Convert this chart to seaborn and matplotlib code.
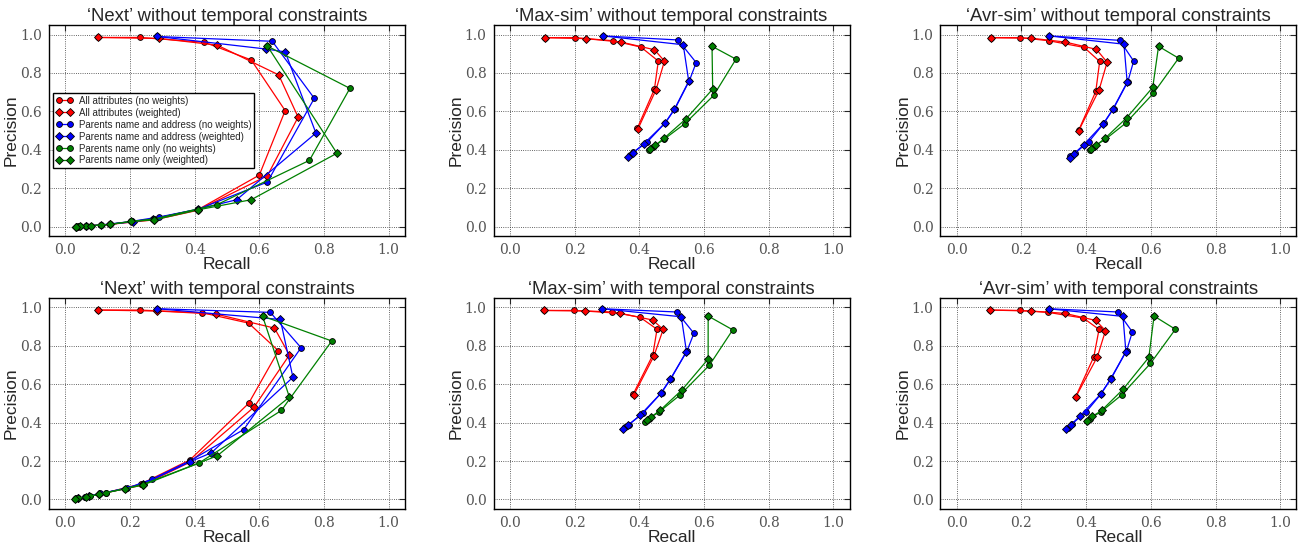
import pandas as pd
import seaborn as sns
import matplotlib.pyplot as plt

series_names = ['All attributes (no weights)', 'All attributes (weighted)',
                'Parents name and address (no weights)', 'Parents name and address (weighted)',
                'Parents name only (no weights)', 'Parents name only (weighted)']
series_colors = ['red', 'red', 'blue', 'blue', 'green', 'green']
series_markers = ['o', 'D', 'o', 'D', 'o', 'D']

titles = ['\u2018Next\u2019 without temporal constraints', '\u2018Max-sim\u2019 without temporal constraints',
          '\u2018Avr-sim\u2019 without temporal constraints', '\u2018Next\u2019 with temporal constraints',
          '\u2018Max-sim\u2019 with temporal constraints', '\u2018Avr-sim\u2019 with temporal constraints']
tick_values = [0.0, 0.2, 0.4, 0.6, 0.8, 1.0]
tick_labels = ['0.0', '0.2', '0.4', '0.6', '0.8', '1.0']

# 'Next' without temporal constraints  (recall, precision)
next_free_all_nw = ([0.10, 0.23, 0.43, 0.575, 0.68, 0.60, 0.41, 0.27, 0.14, 0.08, 0.04],
                    [0.985, 0.985, 0.96, 0.868, 0.604, 0.268, 0.088, 0.04, 0.012, 0.005, 0.0])
next_free_all_w = ([0.10, 0.29, 0.47, 0.66, 0.72, 0.625, 0.41, 0.275, 0.14, 0.065, 0.035],
                   [0.985, 0.98, 0.945, 0.79, 0.57, 0.265, 0.085, 0.035, 0.012, 0.003, 0.0])
next_free_addr_nw = ([0.285, 0.64, 0.77, 0.625, 0.41, 0.29, 0.205, 0.11, 0.065, 0.045],
                     [0.99, 0.965, 0.668, 0.232, 0.09, 0.05, 0.027, 0.008, 0.003, 0.001])
next_free_addr_w = ([0.285, 0.62, 0.68, 0.775, 0.53, 0.41, 0.27, 0.21, 0.11, 0.065, 0.035],
                    [0.99, 0.925, 0.91, 0.487, 0.14, 0.09, 0.04, 0.025, 0.008, 0.003, 0.0])
next_free_name_nw = ([0.625, 0.88, 0.755, 0.47, 0.275, 0.205, 0.14, 0.11, 0.065, 0.04],
                     [0.94, 0.72, 0.345, 0.115, 0.04, 0.027, 0.012, 0.008, 0.003, 0.001])
next_free_name_w = ([0.625, 0.84, 0.575, 0.41, 0.275, 0.205, 0.14, 0.08, 0.045, 0.035],
                    [0.94, 0.382, 0.14, 0.087, 0.035, 0.027, 0.012, 0.005, 0.002, 0.0])

# 'Max-sim' without temporal constraints
max_free_all_nw = ([0.108, 0.20, 0.319, 0.405, 0.459, 0.447, 0.394],
                   [0.984, 0.984, 0.968, 0.935, 0.862, 0.716, 0.512])
max_free_all_w = ([0.108, 0.234, 0.344, 0.447, 0.478, 0.452, 0.396],
                  [0.984, 0.979, 0.961, 0.921, 0.862, 0.713, 0.508])
max_free_addr_nw = ([0.288, 0.52, 0.576, 0.555, 0.511, 0.481, 0.425, 0.382, 0.37],
                    [0.993, 0.972, 0.854, 0.76, 0.615, 0.541, 0.441, 0.387, 0.371])
max_free_addr_w = ([0.288, 0.536, 0.553, 0.509, 0.479, 0.414, 0.38, 0.365],
                   [0.993, 0.947, 0.757, 0.612, 0.538, 0.431, 0.383, 0.363])
max_free_name_nw = ([0.625, 0.699, 0.63, 0.541, 0.476, 0.442, 0.43],
                    [0.939, 0.872, 0.683, 0.536, 0.454, 0.413, 0.398])
max_free_name_w = ([0.625, 0.627, 0.545, 0.478, 0.45, 0.432],
                   [0.939, 0.716, 0.562, 0.462, 0.424, 0.405])

# 'Avr-sim' without temporal constraints
avr_free_all_nw = ([0.106, 0.197, 0.285, 0.394, 0.442, 0.43, 0.377],
                   [0.984, 0.984, 0.968, 0.933, 0.86, 0.704, 0.501])
avr_free_all_w = ([0.106, 0.231, 0.336, 0.432, 0.465, 0.44, 0.377],
                  [0.984, 0.981, 0.961, 0.923, 0.856, 0.711, 0.499])
avr_free_addr_nw = ([0.286, 0.504, 0.547, 0.529, 0.485, 0.455, 0.409, 0.365, 0.351],
                    [0.993, 0.97, 0.862, 0.755, 0.615, 0.538, 0.443, 0.382, 0.366])
avr_free_addr_w = ([0.286, 0.517, 0.527, 0.483, 0.453, 0.393, 0.362, 0.349],
                   [0.993, 0.95, 0.752, 0.612, 0.535, 0.427, 0.378, 0.357])
avr_free_name_nw = ([0.624, 0.686, 0.608, 0.522, 0.459, 0.424, 0.411],
                    [0.939, 0.877, 0.694, 0.538, 0.454, 0.417, 0.399])
avr_free_name_w = ([0.624, 0.606, 0.525, 0.46, 0.432, 0.414],
                   [0.939, 0.725, 0.566, 0.462, 0.424, 0.406])

# 'Next' with temporal constraints
next_temp_all_nw = ([0.103, 0.231, 0.424, 0.567, 0.659, 0.567, 0.386, 0.234, 0.126, 0.06, 0.03],
                    [0.986, 0.986, 0.972, 0.918, 0.774, 0.50, 0.206, 0.08, 0.035, 0.012, 0.004])
next_temp_all_w = ([0.103, 0.285, 0.467, 0.647, 0.693, 0.584, 0.386, 0.24, 0.105, 0.075, 0.04],
                   [0.986, 0.981, 0.965, 0.892, 0.752, 0.481, 0.194, 0.075, 0.027, 0.016, 0.006])
next_temp_addr_nw = ([0.285, 0.634, 0.729, 0.552, 0.386, 0.268, 0.19, 0.108, 0.06, 0.035],
                     [0.993, 0.974, 0.79, 0.364, 0.201, 0.105, 0.057, 0.031, 0.012, 0.005])
next_temp_addr_w = ([0.285, 0.665, 0.704, 0.452, 0.386, 0.24, 0.105, 0.075, 0.04],
                    [0.993, 0.937, 0.636, 0.243, 0.196, 0.08, 0.027, 0.016, 0.006])
next_temp_name_nw = ([0.61, 0.824, 0.668, 0.413, 0.241, 0.186, 0.126, 0.077, 0.041],
                     [0.955, 0.825, 0.463, 0.189, 0.079, 0.056, 0.035, 0.017, 0.007])
next_temp_name_w = ([0.61, 0.693, 0.47, 0.241, 0.186, 0.105, 0.063, 0.03],
                    [0.955, 0.533, 0.227, 0.075, 0.056, 0.027, 0.012, 0.003])

# 'Max-sim' with temporal constraints
max_temp_all_nw = ([0.106, 0.198, 0.316, 0.403, 0.455, 0.442, 0.381],
                   [0.984, 0.984, 0.976, 0.948, 0.886, 0.752, 0.547])
max_temp_all_w = ([0.106, 0.232, 0.342, 0.442, 0.474, 0.445, 0.383],
                  [0.984, 0.981, 0.969, 0.934, 0.885, 0.745, 0.543])
max_temp_addr_nw = ([0.285, 0.516, 0.569, 0.548, 0.498, 0.469, 0.411, 0.368, 0.356],
                    [0.993, 0.976, 0.865, 0.774, 0.629, 0.556, 0.448, 0.39, 0.378])
max_temp_addr_w = ([0.285, 0.53, 0.546, 0.496, 0.467, 0.402, 0.366, 0.349],
                   [0.993, 0.951, 0.77, 0.626, 0.553, 0.437, 0.387, 0.367])
max_temp_name_nw = ([0.613, 0.689, 0.617, 0.525, 0.462, 0.43, 0.419],
                    [0.955, 0.883, 0.699, 0.542, 0.456, 0.421, 0.402])
max_temp_name_w = ([0.613, 0.613, 0.532, 0.464, 0.437, 0.424],
                   [0.955, 0.731, 0.57, 0.463, 0.43, 0.413])

# 'Avr-sim' with temporal constraints
avr_temp_all_nw = ([0.103, 0.195, 0.283, 0.392, 0.44, 0.424, 0.368],
                   [0.986, 0.984, 0.974, 0.944, 0.885, 0.743, 0.535])
avr_temp_all_w = ([0.103, 0.229, 0.334, 0.43, 0.46, 0.435, 0.368],
                  [0.986, 0.981, 0.969, 0.932, 0.879, 0.743, 0.533])
avr_temp_addr_nw = ([0.284, 0.499, 0.543, 0.525, 0.478, 0.447, 0.40, 0.356, 0.343],
                    [0.993, 0.976, 0.872, 0.774, 0.631, 0.551, 0.455, 0.393, 0.372])
avr_temp_addr_w = ([0.284, 0.514, 0.523, 0.476, 0.445, 0.381, 0.354, 0.339],
                   [0.993, 0.953, 0.77, 0.628, 0.548, 0.434, 0.39, 0.365])
avr_temp_name_nw = ([0.61, 0.676, 0.599, 0.51, 0.446, 0.411, 0.403],
                    [0.955, 0.886, 0.708, 0.544, 0.456, 0.421, 0.407])
avr_temp_name_w = ([0.61, 0.594, 0.514, 0.448, 0.419, 0.403],
                   [0.955, 0.74, 0.573, 0.463, 0.432, 0.41])

panels = [
    [next_free_all_nw, next_free_all_w, next_free_addr_nw, next_free_addr_w, next_free_name_nw, next_free_name_w],
    [max_free_all_nw, max_free_all_w, max_free_addr_nw, max_free_addr_w, max_free_name_nw, max_free_name_w],
    [avr_free_all_nw, avr_free_all_w, avr_free_addr_nw, avr_free_addr_w, avr_free_name_nw, avr_free_name_w],
    [next_temp_all_nw, next_temp_all_w, next_temp_addr_nw, next_temp_addr_w, next_temp_name_nw, next_temp_name_w],
    [max_temp_all_nw, max_temp_all_w, max_temp_addr_nw, max_temp_addr_w, max_temp_name_nw, max_temp_name_w],
    [avr_temp_all_nw, avr_temp_all_w, avr_temp_addr_nw, avr_temp_addr_w, avr_temp_name_nw, avr_temp_name_w],
]

sns.set_style('whitegrid', {'grid.linestyle': ':', 'grid.color': 'black', 'axes.edgecolor': 'black',
                            'xtick.direction': 'in', 'ytick.direction': 'in'})
plt.rcParams['font.family'] = ['Liberation Sans', 'DejaVu Sans']
plt.rcParams['axes.linewidth'] = 1.0

palette = {'green': '#008000', 'red': '#ff0000', 'blue': '#0000ff'}

fig = plt.figure(figsize=(12.99, 5.43), dpi=100)
lefts = [0.0377, 0.380, 0.724]
bottoms = [0.565, 0.0626]

for i, (title, panel) in enumerate(zip(titles, panels)):
    ax = fig.add_axes([lefts[i % 3], bottoms[i // 3], 0.274, 0.389])
    handles = []
    for name, color, marker, (xs, ys) in zip(series_names, series_colors, series_markers, panel):
        df = pd.DataFrame({'Recall': xs, 'Precision': ys})
        sns.lineplot(data=df, x='Recall', y='Precision', sort=False, estimator=None,
                     color=palette[color], marker=marker, markersize=4.2 if marker == 'o' else 4.0,
                     markeredgecolor='black', markeredgewidth=0.6, linewidth=0.9, ax=ax, legend=False)
        handles.append(ax.lines[-1])
    ax.set_xlim(-0.05, 1.05)
    ax.set_ylim(-0.05, 1.05)
    ax.set_xticks(tick_values)
    ax.set_xticklabels(tick_labels, fontfamily='DejaVu Serif', fontsize=10, color='#555555')
    ax.set_yticks(tick_values)
    ax.set_yticklabels(tick_labels, fontfamily='DejaVu Serif', fontsize=10, color='#555555')
    ax.tick_params(direction='in', length=4, width=0.8, top=True, right=True, pad=5)
    ax.grid(True, linestyle=':', color='#333333', linewidth=0.6)
    ax.set_title(title, fontsize=13.3, pad=3)
    ax.set_xlabel('Recall', fontsize=12.5, labelpad=0)
    ax.set_ylabel('Precision', fontsize=12.5, labelpad=1)
    for s in ax.spines.values():
        s.set_color('black')
        s.set_linewidth(1.0)
    if i == 0:
        ax.legend(handles, series_names, loc='center left', bbox_to_anchor=(0.005, 0.5),
                  fontsize=7, numpoints=2, handlelength=1.8, labelspacing=0.2,
                  fancybox=False, framealpha=1, edgecolor='black', borderpad=0.3,
                  handletextpad=0.6, borderaxespad=0.2)

plt.savefig('out.png', dpi=100)
